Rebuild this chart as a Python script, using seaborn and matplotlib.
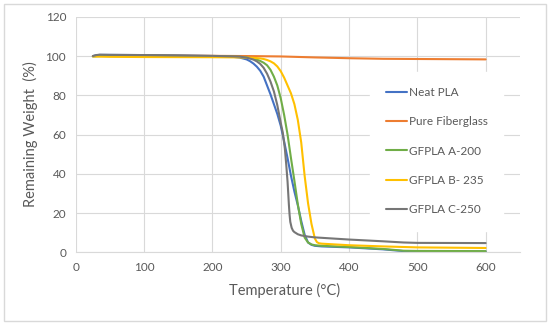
import matplotlib
matplotlib.use("Agg")
import matplotlib.pyplot as plt
import matplotlib.patches as patches
import pandas as pd
import seaborn as sns

# (temperature in C, remaining weight in %)
neat_t = [25, 30, 35, 50, 100, 150, 200, 230, 240, 250, 255, 260, 265, 270, 275, 280, 285, 290,
          295, 300, 305, 310, 315, 320, 325, 330, 335, 340, 345, 350, 360, 400, 450, 480, 500, 600]
neat_w = [100, 100.4, 100.6, 100.6, 100.5, 100.3, 100, 99.6, 99.2, 98.3, 97.4, 96.2, 94.6, 92.5, 89.5,
          85, 80.5, 75.5, 70.5, 64.5, 56.5, 48, 39, 31, 24, 16, 9, 5, 3.8, 3.3, 3.0, 2.5, 1.5, 0.6, 0.5, 0.4]

fiber_t = [25, 50, 100, 200, 250, 300, 350, 400, 450, 500, 550, 600]
fiber_w = [100, 100.2, 100.2, 100.1, 100, 99.8, 99.3, 98.9, 98.6, 98.5, 98.4, 98.3]

a200_t = [25, 35, 50, 100, 200, 240, 250, 260, 265, 270, 275, 280, 285, 290, 295, 300, 305, 310,
          315, 320, 325, 330, 335, 340, 345, 350, 360, 400, 450, 480, 500, 600]
a200_w = [99.8, 100, 100.2, 100.2, 99.9, 99.6, 99.3, 98.7, 98.2, 97.5, 96.6, 95.3, 93, 89.5, 85, 78.5,
          70, 60, 48, 36.5, 24.5, 14.5, 7.5, 5, 4, 3.6, 3.3, 2.7, 1.7, 0.8, 0.7, 0.6]

b235_t = [25, 35, 50, 100, 200, 240, 260, 270, 275, 280, 285, 290, 295, 300, 305, 310, 315, 320,
          325, 330, 335, 340, 345, 350, 353, 356, 360, 380, 400, 450, 500, 600]
b235_w = [99.8, 99.7, 99.6, 99.5, 99.4, 99.3, 99.1, 98.8, 98.5, 98, 97.3, 96.3, 94.7, 92.3, 89, 85,
          81, 75.5, 67.5, 56, 39, 25, 14.5, 7, 5.2, 4.6, 4.4, 4, 3.6, 3, 2.5, 2.2]

c250_t = [25, 30, 35, 50, 100, 200, 240, 250, 260, 265, 270, 275, 280, 285, 290, 295, 300, 303,
          306, 308, 310, 312, 313, 314, 316, 318, 320, 325, 330, 340, 350, 400, 450, 480, 500, 600]
c250_w = [100, 100.5, 100.7, 100.6, 100.5, 100.1, 99.7, 99.2, 98.2, 97.3, 96, 94, 91, 87, 82, 75,
          66, 61, 53, 45, 36, 24, 19, 15.5, 12.5, 11, 10.3, 9.2, 8.6, 8, 7.6, 6.5, 5.6, 5.0, 4.8, 4.7]

series = ["Neat PLA", "Pure Fiberglass", "GFPLA A-200", "GFPLA B- 235", "GFPLA C-250"]
colors = ["#4472C4", "#ED7D31", "#70AD47", "#FFC000", "#767676"]
x_ticks = [0, 100, 200, 300, 400, 500, 600]
y_ticks = [0, 20, 40, 60, 80, 100, 120]

frames = []
for name, t, w in zip(series,
                      [neat_t, fiber_t, a200_t, b235_t, c250_t],
                      [neat_w, fiber_w, a200_w, b235_w, c250_w]):
    frames.append(pd.DataFrame({"Temperature": t, "Weight": w, "Sample": name}))
df = pd.concat(frames, ignore_index=True)

sns.set_style("white")
plt.rcParams['font.family'] = ['Lato', 'DejaVu Sans']

fig = plt.figure(figsize=(5.5, 3.27), dpi=100)
ax = fig.add_axes([75.8 / 550, 1 - 252.3 / 327, 444 / 550, 235.5 / 327])

sns.lineplot(data=df, x="Temperature", y="Weight", hue="Sample", hue_order=series,
             palette=colors, estimator=None, sort=True, linewidth=1.5, ax=ax)

ax.set_xlim(0, 650)
ax.set_ylim(0, 120)
ax.set_xticks(x_ticks)
ax.set_yticks(y_ticks)
ax.grid(True, color="#D9D9D9", linewidth=0.8)
ax.set_axisbelow(True)
for s in ["top", "right", "left"]:
    ax.spines[s].set_visible(False)
ax.spines["bottom"].set_color("#D9D9D9")
ax.tick_params(length=0, labelsize=8.5, labelcolor="#595959", pad=7)

ax.set_xlabel("Temperature (°C)", fontsize=10.5, color="#595959")
ax.set_ylabel("Remaining Weight  (%)", fontsize=10.5, color="#595959")
ax.xaxis.set_label_coords(0.471, -0.13)
ax.yaxis.set_label_coords(-0.085, 0.502)

leg = ax.legend(loc="upper left", bbox_to_anchor=(0.65, 0.792), fontsize=8.5, frameon=True,
                facecolor="white", edgecolor="white", framealpha=1, fancybox=False,
                handlelength=1.8, handletextpad=0.2, labelspacing=1.55, borderpad=1.3)
for txt in leg.get_texts():
    txt.set_color("#595959")

# light grey frame round the whole chart
fig.patches.append(patches.Rectangle((4 / 550, 1 - 321 / 327), 542 / 550, 317 / 327,
                                     transform=fig.transFigure, fill=False,
                                     edgecolor="#D9D9D9", linewidth=1))

fig.savefig("out.png", dpi=100)
